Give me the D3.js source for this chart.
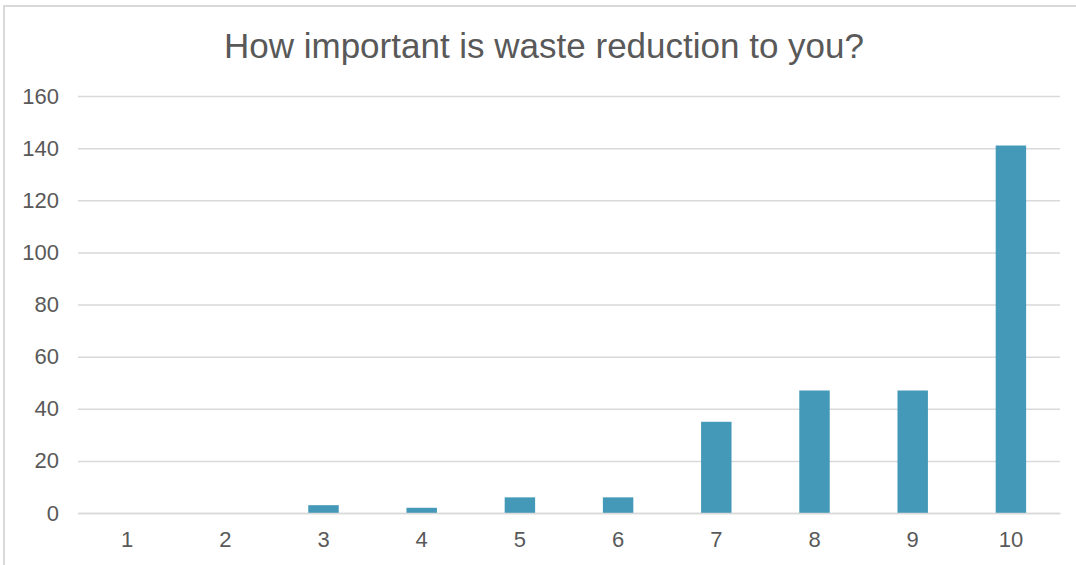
<!DOCTYPE html>
<html><head><meta charset="utf-8">
<script src="https://cdn.jsdelivr.net/npm/d3@7"></script>
<style>html,body{margin:0;padding:0;background:#fff;}</style>
</head><body>
<script>
const categories = ["1","2","3","4","5","6","7","8","9","10"];
const values = [0,0,3,2,6,6,35,47,47,141];
const yTicks = [0,20,40,60,80,100,120,140,160];
const title = "How important is waste reduction to you?";

const W = 1076, H = 565;
const font = "Liberation Sans, Arial, sans-serif";
const svg = d3.select("body").append("svg").attr("width", W).attr("height", H);
svg.append("rect").attr("x", 4).attr("y", 6).attr("width", W + 10).attr("height", H + 10)
  .attr("fill", "#fff").attr("stroke", "#d9d9d9").attr("stroke-width", 2);

const m = {left: 78, right: 1060, top: 96, bottom: 513};
const x = d3.scaleBand().domain(categories).range([m.left, m.right]).paddingInner(0.69).paddingOuter(0.345);
const y = d3.scaleLinear().domain([0,160]).range([m.bottom, m.top]);

const yAxis = svg.append("g").attr("transform", `translate(${m.left},0)`)
  .call(d3.axisLeft(y).tickValues(yTicks).tickSize(-(m.right - m.left)).tickPadding(19));
yAxis.select(".domain").remove();
yAxis.selectAll("line").attr("stroke", "#d9d9d9").attr("stroke-width", 1.5);
yAxis.selectAll("text").attr("fill", "#595959").style("font-family", font).style("font-size", "22px");

svg.append("g").selectAll("rect").data(values).join("rect")
  .attr("x", (d,i) => x(categories[i]))
  .attr("width", x.bandwidth())
  .attr("y", d => y(d))
  .attr("height", d => y(0) - y(d))
  .attr("fill", "#4399b7");

const xAxis = svg.append("g").attr("transform", `translate(0,${m.bottom})`)
  .call(d3.axisBottom(x).tickSize(0).tickPadding(18));
xAxis.select(".domain").attr("stroke", "#d9d9d9").attr("stroke-width", 1.5);
xAxis.selectAll("text").attr("fill", "#595959").style("font-family", font).style("font-size", "22px");

svg.append("text").attr("x", 544).attr("y", 58).attr("text-anchor", "middle")
  .attr("fill", "#595959").style("font-family", font).style("font-size", "35px")
  .text(title);
</script>
</body></html>
